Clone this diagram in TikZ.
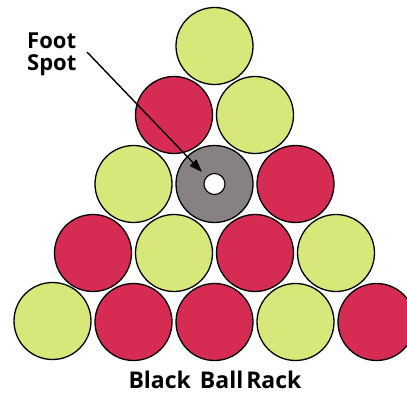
\documentclass[tikz,border=0pt]{standalone}
\usepackage{fontspec}
\newfontfamily\labfont{Open Sans}
\usetikzlibrary{arrows.meta}
\definecolor{ballyellow}{RGB}{216,231,122}
\definecolor{ballred}{RGB}{214,44,84}
\definecolor{ballgrey}{RGB}{136,129,131}
\tikzset{
  ball/.style={circle, draw=black, line width=1.3pt, minimum size=77pt, inner sep=0pt},
  yball/.style={ball, fill=ballyellow},
  rball/.style={ball, fill=ballred},
  gball/.style={ball, fill=ballgrey},
  hole/.style={circle, draw=black, line width=1.1pt, fill=white, minimum size=21pt, inner sep=0pt},
  lab/.style={font=\labfont\bfseries\fontsize{22}{25}\selectfont, inner sep=0pt, text=black},
  pointer/.style={line width=1.4pt, -{Triangle[length=13pt,width=9pt]}}
}
\begin{document}
\begin{tikzpicture}[x=1pt,y=-1pt]
\useasboundingbox (0,0) rectangle (407,392);
\clip (0,0) rectangle (407,392);
\fill[white] (0,0) rectangle (407,392);
% row 1
\node[yball] (b11) at (214.5,46) {};
% row 2
\node[rball] (b21) at (174,115) {};
\node[yball] (b22) at (255,115) {};
% row 3
\node[yball] (b31) at (133.5,184) {};
\node[gball] (b32) at (214.5,184) {};
\node[rball] (b33) at (295.5,184) {};
% row 4
\node[rball] (b41) at (93,253) {};
\node[yball] (b42) at (174,253) {};
\node[rball] (b43) at (255,253) {};
\node[yball] (b44) at (336,253) {};
% row 5
\node[yball] (b51) at (52.5,321) {};
\node[rball] (b52) at (133.5,322) {};
\node[rball] (b53) at (214.5,322) {};
\node[yball] (b54) at (295.5,322) {};
\node[rball] (b55) at (376.5,322) {};
% foot spot hole
\node[hole] (spot) at (b32) {};
% labels
\node[lab, anchor=north west, align=left] (foot) at (27,33) {Foot\\[-3pt]Spot};
\coordinate (tail) at (87,52);
\coordinate (tip) at (202,172);
\draw[pointer] (tail) -- (tip);
\node[lab, anchor=base, font=\labfont\bfseries\fontsize{23}{26}\selectfont] (title) at (215,388) {Black\hspace{9pt}Ball\hspace{-3pt} Rack};
\end{tikzpicture}
\end{document}
